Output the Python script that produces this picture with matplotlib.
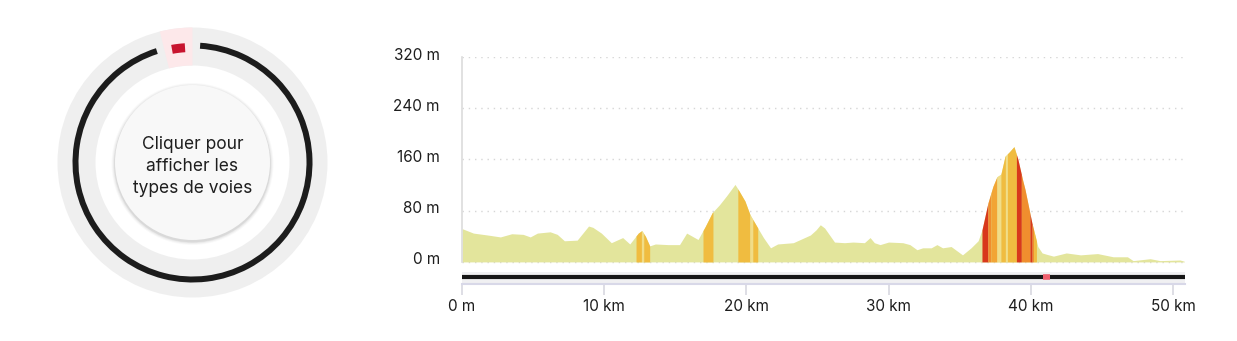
import numpy as np
import matplotlib
matplotlib.use("Agg")
import matplotlib.pyplot as plt
from matplotlib.patches import Wedge, Circle
from matplotlib.transforms import ScaledTranslation

# ---------------- data ----------------
dist_km = [0.0, 0.8, 1.8, 2.7, 3.5, 4.3, 4.8, 5.3, 6.2, 6.7, 7.2, 8.1, 8.9, 9.2, 9.8,
           10.5, 11.3, 11.8, 12.4, 12.65, 12.9, 13.2, 13.6, 14.5, 15.3, 15.8, 16.6,
           17.1, 17.6, 18.1, 18.6, 19.2, 19.4, 19.9, 20.25, 20.8, 21.2, 21.7, 22.2,
           23.3, 23.8, 24.5, 24.9, 25.2, 25.5, 26.2, 26.9, 27.5, 28.3, 28.7, 29.0,
           29.4, 30.0, 31.0, 31.5, 32.0, 32.4, 33.0, 33.4, 33.8, 34.4, 35.2, 35.8,
           36.3, 36.57, 36.99, 37.34, 37.62, 37.9, 38.19, 38.5, 38.82, 39.1, 39.45,
           39.6, 40.08, 40.5, 40.8, 41.1, 41.6, 42.5, 43.5, 44.7, 45.8, 46.8, 47.2,
           48.4, 49.1, 50.5, 50.8]
elev_m = [52, 45, 42, 39, 44, 43, 39, 45, 47, 43, 33, 34, 56, 54, 45,
          30, 38, 28, 45, 49, 40, 25, 28, 27, 27, 45, 35,
          55, 77, 89, 103, 121, 114, 95, 74, 53, 38, 22, 28,
          30, 35, 42, 50, 58, 53, 31, 30, 31, 30, 38, 30,
          27, 31, 30, 27, 19, 22, 22, 27, 22, 24, 11, 22,
          33, 50, 92, 118, 133, 137, 165, 172, 180, 160, 126,
          113, 61, 24, 14, 12, 9, 14, 11, 13, 8, 8, 2,
          5, 2, 3, 1]

# coloured slope sections: start km, end km, class
seg_start = [12.24, 12.62, 12.78, 16.95, 19.40, 20.25, 20.45,
             36.57, 36.99, 37.20, 37.62, 37.90, 38.22, 38.36, 38.99, 39.34, 39.94, 40.10, 40.20]
seg_end   = [12.62, 12.78, 13.20, 17.65, 20.25, 20.45, 20.80,
             36.99, 37.20, 37.62, 37.90, 38.22, 38.36, 38.99, 39.34, 39.94, 40.10, 40.20, 40.40]
seg_class = ['y', 'p', 'y', 'y', 'y', 'p', 'y',
             'r', 'o', 'o2', 'p', 'y', 'p', 'y', 'r', 'o', 'r', 'o', 'y']
seg_colors = {'y': '#f0bc40', 'o2': '#f2a535', 'o': '#f08e2e', 'r': '#d8381c', 'p': '#f1dd88'}

y_ticks = [0, 80, 160, 240, 320]
y_tick_labels = ['0 m', '80 m', '160 m', '240 m', '320 m']
x_ticks = [0, 10, 20, 30, 40, 50]
x_tick_labels = ['0 m', '10 km', '20 km', '30 km', '40 km', '50 km']
x_max = 50.85
marker_km = (40.86, 41.35)

# donut (road types)
voie_shares = [98.1, 1.9]
voie_colors = ['#1c1c1c', '#c8142f']
donut_text = "Cliquer pour\nafficher les\ntypes de voies"

# ---------------- figure ----------------
W, H = 1237, 341
fig = plt.figure(figsize=(W / 100, H / 100), dpi=100)
fig.patch.set_facecolor('white')
FONT = ['Inter', 'DejaVu Sans']
TXT = '#1e1e1e'

# --- elevation profile axes ---
ax = fig.add_axes([462 / W, 57 / H, (1185 - 462) / W, (284 - 57) / H])
ax.set_xlim(0, x_max)
ax.set_ylim(-34.5, 320)
km = np.array(dist_km, float)
el = np.array(elev_m, float)

for yv in y_ticks:
    ax.axhline(yv, color='#d6d6d6', lw=1.0, ls=(0, (1, 3.5)), zorder=1)

ax.fill_between(km, 0, el, color='#e3e59c', lw=0, zorder=2)
for s, e, c in zip(seg_start, seg_end, seg_class):
    inside = (km > s) & (km < e)
    xs = np.concatenate([[s], km[inside], [e]])
    ys = np.interp(xs, km, el)
    ax.fill_between(xs, 0, ys, color=seg_colors[c], lw=0, zorder=3)

# route strip
ax.axhspan(-33, -15.7, color='#f0f0f2', lw=0, zorder=2)
ax.plot([0, x_max], [-23.5, -23.5], color='#161616', lw=3.0, solid_capstyle='butt', zorder=4)
ax.plot(list(marker_km), [-23.5, -23.5], color='#f0606e', lw=4.0, solid_capstyle='butt', zorder=5)

for sp in ['top', 'right']:
    ax.spines[sp].set_visible(False)
ax.spines['left'].set_bounds(0, 320)
ax.spines['left'].set_color('#dcdcdc')
ax.spines['left'].set_linewidth(1.2)
ax.spines['bottom'].set_color('#d8d8e8')
ax.spines['bottom'].set_linewidth(1.5)

ax.set_yticks(y_ticks)
ax.set_yticklabels(y_tick_labels)
ax.set_xticks(x_ticks)
ax.set_xticklabels(x_tick_labels)
ax.tick_params(axis='y', length=0, pad=16, labelsize=11, labelcolor=TXT)
ax.tick_params(axis='x', length=8, width=1.2, color='#d8d8e0', pad=3,
               labelsize=11, labelcolor=TXT)
for lab in ax.get_yticklabels() + ax.get_xticklabels():
    lab.set_fontfamily(FONT)
off = ScaledTranslation(0, 0.035, fig.dpi_scale_trans)
for lab in ax.get_yticklabels():
    lab.set_transform(lab.get_transform() + off)

# --- donut axes ---
ax2 = fig.add_axes([0, 0, 385 / W, 1])
ax2.set_xlim(0, 385)
ax2.set_ylim(0, 341)
ax2.axis('off')
cx, cy = 192.5, 341 - 162.5

ax2.add_patch(Wedge((cx, cy), 135, 0, 360, width=38, color='#efefef', lw=0))

gap = 7.45
avail = 360 - gap * len(voie_shares)
tot = sum(voie_shares)
a = gap / 2  # clockwise from top
for v, col in zip(voie_shares, voie_colors):
    span = avail * v / tot
    t1, t2 = 90 - (a + span), 90 - a
    if col == voie_colors[-1]:
        mid = a + span / 2
        ax2.add_patch(Wedge((cx, cy), 135, 90 - (mid + 7), 90 - (mid - 7), width=38,
                            color='#fde8ea', lw=0, zorder=2))
        ax2.add_patch(Wedge((cx, cy), 119.5, t1, t2, width=9, color=col, lw=0, zorder=3))
    else:
        ax2.add_patch(Wedge((cx, cy), 120, t1, t2, width=6, color=col, lw=0, zorder=3))
    a += span + gap

# inner circle with soft shadow
for r, al in [(81, 0.025), (80, 0.035), (79, 0.045), (78.3, 0.05)]:
    ax2.add_patch(Circle((cx, cy - 1.5), r, color='#000000', alpha=al, lw=0, zorder=4))
ax2.add_patch(Circle((cx, cy), 77.5, color='#f8f8f8', lw=0, zorder=5))
ax2.text(cx, cy - 4, donut_text, ha='center', va='center', fontsize=12.5,
         color=TXT, family=FONT, linespacing=1.4, zorder=6)

fig.savefig('out.png', dpi=100, facecolor='white')
